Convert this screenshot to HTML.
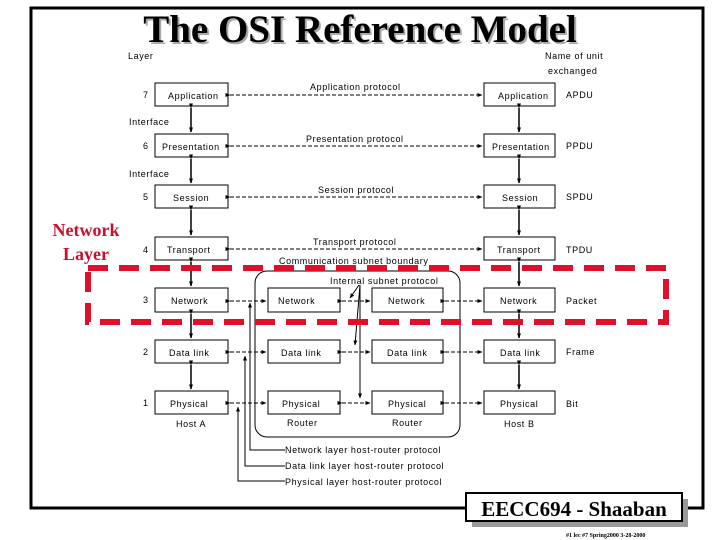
<!DOCTYPE html>
<html><head><style>
body{margin:0;background:#fff;}
svg{display:block;}
.s{font-family:"Liberation Sans",sans-serif;font-size:9px;fill:#000;letter-spacing:0.6px;}
</style></head><body>
<svg width="720" height="540" viewBox="0 0 720 540">
<defs>
<marker id="a" markerUnits="userSpaceOnUse" markerWidth="5" markerHeight="5" refX="4.5" refY="2.5" orient="auto"><path d="M0,0.5 L5,2.5 L0,4.5z" fill="#000"/></marker>
</defs>
<rect x="31" y="8" width="672" height="500" fill="#fff" stroke="#000" stroke-width="3"/>
<text x="362" y="44" text-anchor="middle" font-family="Liberation Serif" font-weight="bold" font-size="39" fill="#aaa">The OSI Reference Model</text>
<text x="360" y="42" text-anchor="middle" font-family="Liberation Serif" font-weight="bold" font-size="39" fill="#000">The OSI Reference Model</text>
<text class="s" x="128" y="59">Layer</text>
<text class="s" x="545" y="59">Name of unit</text>
<text class="s" x="548" y="74">exchanged</text>
<text class="s" x="129" y="125">Interface</text>
<text class="s" x="129" y="177">Interface</text>
<g stroke="#000" fill="none" stroke-width="1">
<rect x="155" y="83" width="73" height="23"/><rect x="484" y="83" width="71" height="23"/>
<rect x="155" y="134" width="73" height="23"/><rect x="484" y="134" width="71" height="23"/>
<rect x="155" y="185" width="73" height="23"/><rect x="484" y="185" width="71" height="23"/>
<rect x="155" y="237" width="73" height="23"/><rect x="484" y="237" width="71" height="23"/>
<rect x="155" y="288" width="73" height="24"/><rect x="268" y="288" width="72" height="24"/><rect x="372" y="288" width="71" height="24"/><rect x="484" y="288" width="71" height="24"/>
<rect x="155" y="340" width="73" height="23"/><rect x="268" y="340" width="72" height="23"/><rect x="372" y="340" width="71" height="23"/><rect x="484" y="340" width="71" height="23"/>
<rect x="155" y="391" width="73" height="23"/><rect x="268" y="391" width="72" height="23"/><rect x="372" y="391" width="71" height="23"/><rect x="484" y="391" width="71" height="23"/>
<rect x="255" y="271" width="205" height="166" rx="12"/>
<g stroke-dasharray="4,2" marker-start="url(#a)" marker-end="url(#a)">
<line x1="230" y1="95" x2="482" y2="95"/><line x1="230" y1="146" x2="482" y2="146"/>
<line x1="230" y1="197" x2="482" y2="197"/><line x1="230" y1="249" x2="482" y2="249"/>
<line x1="230" y1="301" x2="266" y2="301"/><line x1="342" y1="301" x2="370" y2="301"/><line x1="445" y1="301" x2="482" y2="301"/>
<line x1="230" y1="352" x2="266" y2="352"/><line x1="342" y1="352" x2="370" y2="352"/><line x1="445" y1="352" x2="482" y2="352"/>
<line x1="230" y1="403" x2="266" y2="403"/><line x1="342" y1="403" x2="370" y2="403"/><line x1="445" y1="403" x2="482" y2="403"/>
</g>
<g marker-start="url(#a)" marker-end="url(#a)" stroke-width="1.5">
<line x1="191" y1="108" x2="191" y2="132"/><line x1="519" y1="108" x2="519" y2="132"/>
<line x1="191" y1="159" x2="191" y2="183"/><line x1="519" y1="159" x2="519" y2="183"/>
<line x1="191" y1="210" x2="191" y2="235"/><line x1="519" y1="210" x2="519" y2="235"/>
<line x1="191" y1="262" x2="191" y2="286"/><line x1="519" y1="262" x2="519" y2="286"/>
<line x1="191" y1="314" x2="191" y2="338"/><line x1="519" y1="314" x2="519" y2="338"/>
<line x1="191" y1="365" x2="191" y2="389"/><line x1="519" y1="365" x2="519" y2="389"/>
</g>
<polyline points="285,450 250,450 250,303" marker-end="url(#a)"/>
<polyline points="285,466 245,466 245,356" marker-end="url(#a)"/>
<polyline points="285,481 238,481 238,407" marker-end="url(#a)"/>
<line x1="359" y1="285" x2="350" y2="298" marker-end="url(#a)"/>
<line x1="360" y1="285" x2="355" y2="345" marker-end="url(#a)"/>
<line x1="360" y1="285" x2="360" y2="398" marker-end="url(#a)"/>
</g>
<g class="s">
<text x="143" y="98">7</text><text x="168" y="99">Application</text><text x="498" y="99">Application</text><text x="566" y="98">APDU</text>
<text x="143" y="149">6</text><text x="162" y="150">Presentation</text><text x="492" y="150">Presentation</text><text x="566" y="149">PPDU</text>
<text x="143" y="200">5</text><text x="173" y="201">Session</text><text x="502" y="201">Session</text><text x="566" y="200">SPDU</text>
<text x="143" y="253">4</text><text x="167" y="253">Transport</text><text x="497" y="253">Transport</text><text x="566" y="253">TPDU</text>
<text x="143" y="303">3</text><text x="171" y="304">Network</text><text x="278" y="304">Network</text><text x="388" y="304">Network</text><text x="500" y="304">Network</text><text x="566" y="304">Packet</text>
<text x="143" y="355">2</text><text x="169" y="356">Data link</text><text x="281" y="356">Data link</text><text x="387" y="356">Data link</text><text x="500" y="356">Data link</text><text x="566" y="355">Frame</text>
<text x="143" y="406">1</text><text x="170" y="407">Physical</text><text x="282" y="407">Physical</text><text x="388" y="407">Physical</text><text x="500" y="407">Physical</text><text x="566" y="407">Bit</text>
<text x="176" y="427">Host A</text><text x="287" y="426">Router</text><text x="392" y="426">Router</text><text x="504" y="427">Host B</text>
<text x="310" y="90">Application protocol</text>
<text x="306" y="142">Presentation protocol</text>
<text x="318" y="193">Session protocol</text>
<text x="313" y="245">Transport protocol</text>
<text x="279" y="264">Communication subnet boundary</text>
<text x="330" y="284">Internal subnet protocol</text>
<text x="285" y="453">Network layer host-router protocol</text>
<text x="285" y="469">Data link layer host-router protocol</text>
<text x="285" y="485">Physical layer host-router protocol</text>
</g>
<rect x="88" y="268" width="578" height="54" fill="none" stroke="#e0102a" stroke-width="6" stroke-dasharray="20,11"/>
<text x="86" y="236" text-anchor="middle" font-family="Liberation Serif" font-weight="bold" font-size="18" fill="#c8102e">Network</text>
<text x="86" y="260" text-anchor="middle" font-family="Liberation Serif" font-weight="bold" font-size="18" fill="#c8102e">Layer</text>
<rect x="472" y="499" width="216" height="28" fill="#999"/>
<rect x="466" y="493" width="216" height="28" fill="#fff" stroke="#000" stroke-width="2"/>
<text x="574" y="516" text-anchor="middle" font-family="Liberation Serif" font-weight="bold" font-size="21">EECC694 - Shaaban</text>
<text x="566" y="537" font-family="Liberation Serif" font-size="6" font-weight="bold">#1 lec #7 Spring2000 3-28-2000</text>
</svg>
</body></html>
